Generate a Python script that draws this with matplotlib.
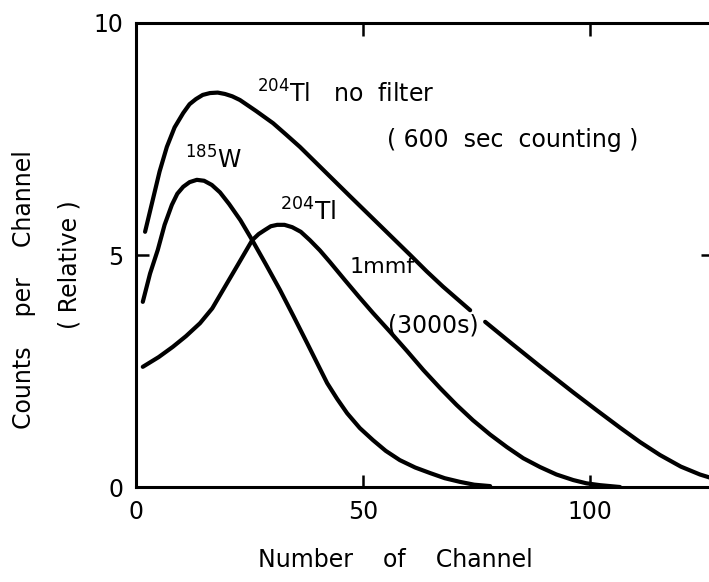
import numpy as np
import matplotlib
matplotlib.use("Agg")
import matplotlib.pyplot as plt

plt.rcParams['font.family'] = ['DejaVu Sans']

# 204Tl, no filter (600 s counting) -- NaN marks the break under the "(3000s)" label
ch_nofilter = [2.0, 3.7, 5.2, 6.8, 8.5, 10.4, 11.8, 13.2, 14.7, 16.3, 18.0, 19.6, 21.2, 22.9, 26.5,
               30.2, 33.0, 36.1, 41.6, 47.1, 53.7, 60.4, 64.0, 67.6, 73.6,
               75.2, 76.9, 82.9, 89.0, 96.3, 101.4, 106.6, 111.0, 115.4, 120.0, 124.2, 127.5]
cnt_nofilter = [5.50, 6.19, 6.80, 7.33, 7.75, 8.06, 8.25, 8.36, 8.45, 8.49, 8.50, 8.47, 8.42, 8.34, 8.10,
                7.84, 7.60, 7.33, 6.80, 6.27, 5.64, 5.00, 4.65, 4.32, 3.81,
                np.nan, 3.56, 3.08, 2.60, 2.04, 1.66, 1.28, 0.97, 0.69, 0.44, 0.27, 0.17]

# 185W
ch_w = [1.5, 3.1, 4.8, 6.3, 7.9, 9.1, 10.4, 11.8, 13.4, 15.0, 16.7, 18.5, 20.5, 23.0, 25.6, 28.6,
        31.7, 34.7, 37.7, 40.0, 42.1, 44.3, 46.5, 49.3, 52.2, 55.0, 58.1, 61.5, 64.8, 68.0, 71.4,
        74.5, 78.0]
cnt_w = [3.99, 4.60, 5.11, 5.65, 6.08, 6.32, 6.47, 6.57, 6.62, 6.60, 6.51, 6.35, 6.10, 5.75, 5.32, 4.80,
         4.25, 3.68, 3.10, 2.65, 2.24, 1.90, 1.59, 1.27, 1.01, 0.78, 0.58, 0.42, 0.30, 0.19, 0.11,
         0.05, 0.02]

# 204Tl with 1 mm filter (3000 s)
ch_1mm = [1.5, 5.0, 8.1, 11.0, 14.1, 16.8, 19.2, 22.5, 25.6, 27.0, 28.4, 29.7, 31.1, 32.7, 34.4,
          36.3, 38.3, 40.5, 42.7, 46.0, 49.1, 52.2, 56.0, 59.7, 63.3, 67.0, 70.6, 74.2, 78.0,
          81.7, 85.3, 89.0, 92.6, 96.3, 99.2, 102.2, 106.6]
cnt_1mm = [2.59, 2.80, 3.02, 3.25, 3.53, 3.85, 4.25, 4.80, 5.32, 5.45, 5.54, 5.62, 5.65, 5.65, 5.60,
           5.50, 5.32, 5.10, 4.85, 4.46, 4.10, 3.75, 3.34, 2.93, 2.52, 2.13, 1.77, 1.44, 1.13,
           0.86, 0.62, 0.43, 0.27, 0.15, 0.08, 0.04, 0.0]

xticks = [0, 50, 100]
xticklabels = ["0", "50", "100"]
yticks = [0, 5, 10]
yticklabels = ["0", "5", "10"]

fig = plt.figure(figsize=(7.09, 5.82), dpi=100)
ax = fig.add_axes([0.1918, 0.1632, 0.8133, 0.7973])

lw = 3.0
for xs, ys in [(ch_nofilter, cnt_nofilter), (ch_w, cnt_w), (ch_1mm, cnt_1mm)]:
    ax.plot(xs, ys, color='black', lw=lw, solid_joinstyle='round', solid_capstyle='round')

ax.set_xlim(0, 127)
ax.set_ylim(0, 10)

for s in ax.spines.values():
    s.set_linewidth(2.2)

ax.set_xticks(xticks)
ax.set_xticklabels(xticklabels)
ax.set_yticks(yticks)
ax.set_yticklabels(yticklabels)
ax.tick_params(axis='both', direction='in', length=9, width=1.8, labelsize=17, pad=9,
               top=True, right=True)

fs = 17
ax.text(26.7, 8.28, r"$^{204}$Tl   no  filter", fontsize=fs, ha='left', va='baseline')
ax.text(110.6, 7.48, "( 600  sec  counting )", fontsize=fs, ha='right', va='center')
ax.text(10.8, 6.87, r"$^{185}$W", fontsize=fs, ha='left', va='baseline')
ax.text(31.7, 5.75, r"$^{204}$Tl", fontsize=fs + 1, ha='left', va='baseline')
ax.text(47.1, 4.61, "1mmf", fontsize=fs - 1, ha='left', va='baseline')
ax.text(55.5, 3.49, "(3000s)", fontsize=fs, ha='left', va='center')

fig.text(395 / 709, 1 - 560 / 582, "Number    of    Channel", fontsize=17, ha='center', va='center')
fig.text(24 / 709, 1 - 290 / 582, "Counts    per    Channel", fontsize=17, ha='center', va='center',
         rotation=90)
fig.text(70 / 709, 1 - 265 / 582, "( Relative )", fontsize=17, ha='center', va='center', rotation=90)

fig.savefig("out.png", dpi=100)
